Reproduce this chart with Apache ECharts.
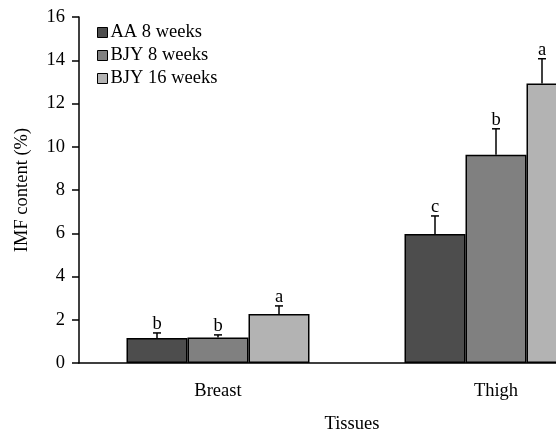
<!DOCTYPE html>
<html><head><meta charset="utf-8">
<script src="https://cdn.jsdelivr.net/npm/echarts@6/dist/echarts.min.js"></script>
<style>html,body{margin:0;padding:0;background:#fff}#c{width:556px;height:433px}</style>
</head><body><div id="c"></div>
<script>
const categories = ['Breast', 'Thigh'];
const seriesNames = ['AA 8 weeks', 'BJY 8 weeks', 'BJY 16 weeks'];
const aa8 = [1.16, 5.97];
const bjy8 = [1.18, 9.63];
const bjy16 = [2.27, 12.92];
const aa8Err = [0.23, 0.83];
const bjy8Err = [0.12, 1.2];
const bjy16Err = [0.37, 1.15];
const aa8Sig = ['b', 'c'];
const bjy8Sig = ['b', 'b'];
const bjy16Sig = ['a', 'a'];
const colors = ['#4d4d4d', '#808080', '#b3b3b3'];

const FONT = 'Liberation Serif';
const FS = 18.5;
const BW = 61;
const values = [aa8, bjy8, bjy16];
const errs = [aa8Err, bjy8Err, bjy16Err];
const sigs = [aa8Sig, bjy8Sig, bjy16Sig];
const offsets = [-BW, 0, BW];

const chart = echarts.init(document.getElementById('c'));
const series = [];
values.forEach((v, i) => {
  series.push({
    name: seriesNames[i], type: 'bar', data: v, barWidth: BW, barGap: '0%',
    itemStyle: { color: colors[i], borderColor: '#000', borderWidth: 1.5 },
    z: 2
  });
});
values.forEach((v, i) => {
  series.push({
    type: 'custom', z: 3, silent: true,
    data: v.map((val, k) => [k, val, val + errs[i][k]]),
    renderItem: function (params, api) {
      const base = api.coord([api.value(0), api.value(1)]);
      const top = api.coord([api.value(0), api.value(2)]);
      // keep error bars inside the visible canvas (the figure is cropped at right)
      const x = Math.min(base[0] + offsets[i], api.getWidth() - 14);
      const cap = 4;
      return {
        type: 'group', children: [
          { type: 'line', shape: { x1: x, y1: base[1], x2: x, y2: top[1] }, style: { stroke: '#000', lineWidth: 1.5 } },
          { type: 'line', shape: { x1: x - cap, y1: top[1], x2: x + cap, y2: top[1] }, style: { stroke: '#000', lineWidth: 1.5 } },
          { type: 'text', x: x, y: top[1] + 1, style: { text: sigs[i][params.dataIndex], fill: '#000', font: FS + 'px "' + FONT + '"', textAlign: 'center', textVerticalAlign: 'bottom' } }
        ]
      };
    }
  });
});

chart.setOption({
  animation: false,
  textStyle: { fontFamily: FONT, color: '#000' },
  grid: { left: 79, top: 17, width: 556, height: 346, outerBoundsMode: 'none', containLabel: false },
  legend: {
    orient: 'vertical', left: 92, top: 18, itemWidth: 10, itemHeight: 10, itemGap: 4,
    icon: 'rect',
    data: seriesNames,
    textStyle: { fontFamily: FONT, fontSize: FS, color: '#000', padding: [0, 0, 0, -2] },
    itemStyle: { borderColor: '#000', borderWidth: 1 }
  },
  xAxis: {
    type: 'category', data: categories,
    name: 'Tissues', nameLocation: 'middle', nameGap: 52,
    nameTextStyle: { fontFamily: FONT, fontSize: FS, color: '#000', padding: [0, 10, 0, 0] },
    axisLine: { lineStyle: { color: '#000', width: 1.5 } },
    axisTick: { alignWithLabel: true, length: 6, lineStyle: { color: '#000', width: 1.5 } },
    axisLabel: { fontFamily: FONT, fontSize: FS, color: '#000', margin: 19 }
  },
  yAxis: {
    type: 'value', min: 0, max: 16, interval: 2,
    name: 'IMF content (%)', nameLocation: 'middle', nameGap: 47, nameRotate: 90,
    nameTextStyle: { fontFamily: FONT, fontSize: FS, color: '#000' },
    axisLine: { show: true, lineStyle: { color: '#000', width: 1.5 } },
    axisTick: { show: true, length: 7, lineStyle: { color: '#000', width: 1.5 } },
    axisLabel: { fontFamily: FONT, fontSize: FS, color: '#000', margin: 14 },
    splitLine: { show: false }
  },
  series: series
});
</script></body></html>
